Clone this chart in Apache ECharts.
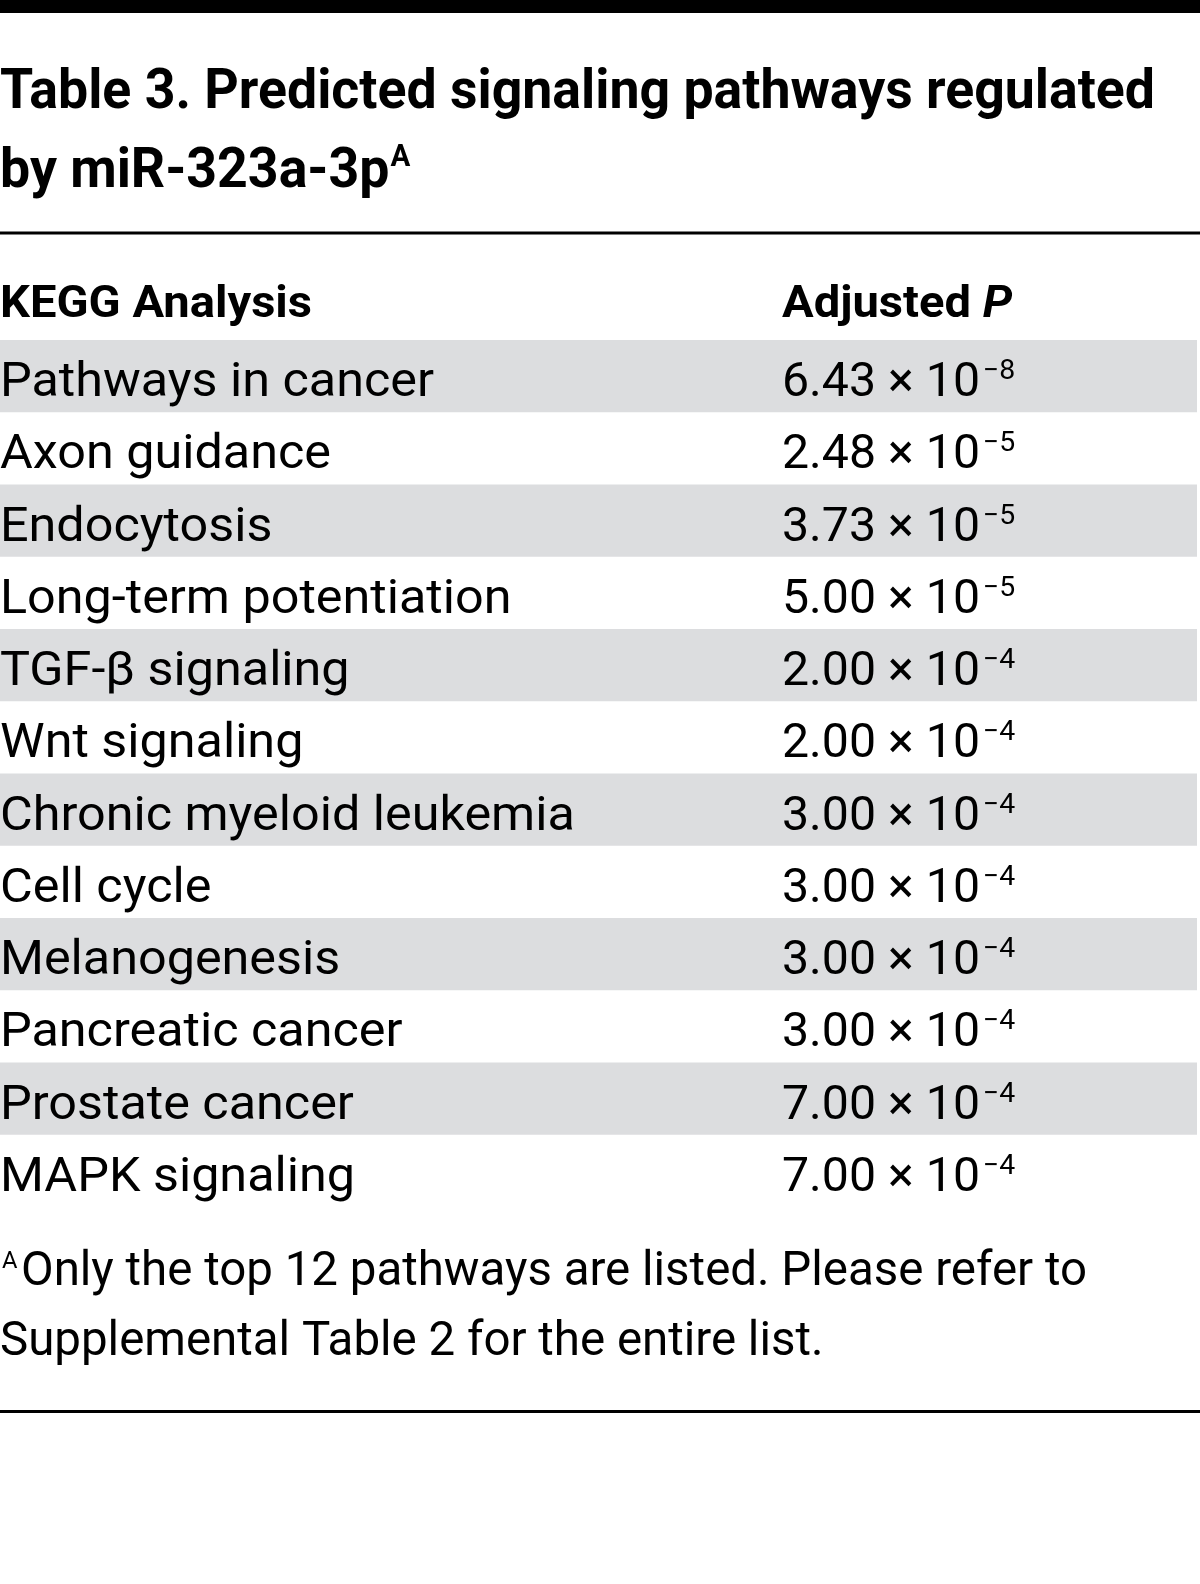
<!DOCTYPE html>
<html>
<head>
<meta charset="utf-8">
<script src="https://cdn.jsdelivr.net/npm/echarts@6/dist/echarts.min.js"></script>
<style>
html,body{margin:0;padding:0;background:#fff;}
#chart{width:1200px;height:1584px;}
</style>
</head>
<body>
<div id="chart"></div>
<script>
// ---- data ----
const titleLines = ['Table 3. Predicted signaling pathways regulated', 'by miR-323a-3p'];
const titleNote = 'A';
const columnHeaders = ['KEGG Analysis', 'Adjusted ', 'P'];
const categories = [
  'Pathways in cancer', 'Axon guidance', 'Endocytosis', 'Long-term potentiation',
  'TGF-\u03B2 signaling', 'Wnt signaling', 'Chronic myeloid leukemia', 'Cell cycle',
  'Melanogenesis', 'Pancreatic cancer', 'Prostate cancer', 'MAPK signaling'
];
const mantissas = [6.43, 2.48, 3.73, 5.00, 2.00, 2.00, 3.00, 3.00, 3.00, 3.00, 7.00, 7.00];
const exponents = [-8, -5, -5, -5, -4, -4, -4, -4, -4, -4, -4, -4];
const footnoteMark = 'A';
const footnoteLines = ['Only the top 12 pathways are listed. Please refer to', 'Supplemental Table 2 for the entire list.'];

// ---- text metrics helpers ----
const FAM = 'Roboto, "Noto Sans", "DejaVu Sans", sans-serif';
const mctx = document.createElement('canvas').getContext('2d');
function fontStr(size, weight, style) { return (style || 'normal') + ' ' + (weight || 'normal') + ' ' + size + 'px ' + FAM; }
function measure(text, f) { mctx.font = f; mctx.textBaseline = 'alphabetic'; return mctx.measureText(text).width; }
function capRatio(weight, style) {
  mctx.font = fontStr(100, weight, style); mctx.textBaseline = 'alphabetic';
  return mctx.measureText('H').actualBoundingBoxAscent / 100;
}
function midOffset(size, weight, style) {
  mctx.font = fontStr(size, weight, style);
  mctx.textBaseline = 'alphabetic';
  const a = mctx.measureText('H').actualBoundingBoxAscent;
  mctx.textBaseline = 'middle';
  const b = mctx.measureText('H').actualBoundingBoxAscent;
  mctx.textBaseline = 'alphabetic';
  return a - b;
}
function sizeForCap(cap, weight, style) { return Math.round(cap / capRatio(weight, style) * 10) / 10; }

function T(x, baseline, text, size, weight, style, sx) {
  return {
    type: 'text', x: x, y: baseline - midOffset(size, weight, style), scaleX: sx || 1,
    style: { text: text, x: 0, y: 0, fill: '#000', font: fontStr(size, weight, style), align: 'left', verticalAlign: 'middle' }
  };
}

const titleSize = sizeForCap(40, 'bold');
const titleSupSize = sizeForCap(22, 'bold');
const headSize = sizeForCap(32, 'bold');
const bodySize = sizeForCap(34, 'normal');
const supSize = sizeForCap(20, 'normal');
const footSupSize = sizeForCap(17, 'normal');

const sxTitle = 1155 / measure(titleLines[0], fontStr(titleSize, 'bold'));
const sxHead = 312 / measure(columnHeaders[0], fontStr(headSize, 'bold'));
const sxBody = 434 / measure(categories[0], fontStr(bodySize, 'normal'));
const sxVal = 198 / measure('2.00 \u00D7 10', fontStr(bodySize, 'normal'));
const sxFoot = 1066 / measure(footnoteLines[0], fontStr(bodySize, 'normal'));

// ---- static graphics ----
const graphics = [];
graphics.push({ type: 'rect', shape: { x: 0, y: 0, width: 1200, height: 13 }, style: { fill: '#000' } });
graphics.push({ type: 'rect', shape: { x: 0, y: 231.5, width: 1200, height: 3 }, style: { fill: '#000' } });
graphics.push({ type: 'rect', shape: { x: 0, y: 1410, width: 1200, height: 3 }, style: { fill: '#000' } });
graphics.push(T(0, 108, titleLines[0], titleSize, 'bold', 'normal', sxTitle));
graphics.push(T(0, 187, titleLines[1], titleSize, 'bold', 'normal', sxTitle));
const t2w = measure(titleLines[1], fontStr(titleSize, 'bold')) * sxTitle;
graphics.push(T(t2w + 1, 166, titleNote, titleSupSize, 'bold', 'normal', sxTitle));
graphics.push(T(0, 317, columnHeaders[0], headSize, 'bold', 'normal', sxHead));
graphics.push(T(782, 317, columnHeaders[1], headSize, 'bold', 'normal', sxHead));
const adjW = measure(columnHeaders[1], fontStr(headSize, 'bold')) * sxHead;
graphics.push(T(782 + adjW, 317, columnHeaders[2], headSize, 'bold', 'italic', sxHead));
graphics.push(T(2, 1268, footnoteMark, footSupSize, 'normal', 'normal', sxFoot));
graphics.push(T(21, 1285, footnoteLines[0], bodySize, 'normal', 'normal', sxFoot));
graphics.push(T(0, 1355, footnoteLines[1], bodySize, 'normal', 'normal', sxFoot));
graphics.forEach(g => { g.silent = true; });

// ---- chart ----
const chart = echarts.init(document.getElementById('chart'), null, { renderer: 'canvas' });
chart.setOption({
  backgroundColor: '#fff',
  animation: false,
  grid: { left: 0, right: 0, top: 340, bottom: 377 },
  xAxis: { type: 'value', min: 0, max: 1200, show: false },
  yAxis: { type: 'category', data: categories, inverse: true, show: false, boundaryGap: true },
  graphic: graphics,
  series: [{
    type: 'custom',
    data: categories.map((c, i) => [i, mantissas[i], exponents[i]]),
    encode: { y: 0 },
    renderItem: function (params, api) {
      const idx = api.value(0);
      const c = api.coord([0, idx]);
      const h = api.size([0, 1])[1];
      const top = c[1] - h / 2;
      const children = [];
      if (idx % 2 === 0) {
        const right = api.coord([1197, idx])[0];
        children.push({ type: 'rect', shape: { x: c[0], y: top, width: right - c[0], height: h }, style: { fill: '#dcdddf' } });
      }
      const base = top + 56;
      children.push(T(c[0], base, categories[idx], bodySize, 'normal', 'normal', sxBody));
      const vx = api.coord([782, idx])[0];
      const main = api.value(1).toFixed(2) + ' \u00D7 10';
      children.push(T(vx, base, main, bodySize, 'normal', 'normal', sxVal));
      const mw = measure(main, fontStr(bodySize, 'normal')) * sxVal;
      children.push(T(vx + mw + 3, top + 39, '\u2212' + Math.abs(api.value(2)), supSize, 'normal', 'normal', sxVal));
      return { type: 'group', children: children };
    }
  }]
});
</script>
</body>
</html>
